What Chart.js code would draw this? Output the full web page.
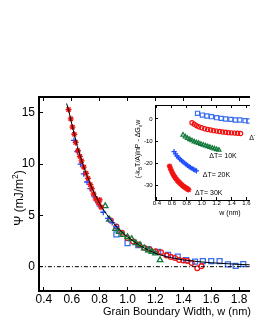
<!DOCTYPE html>
<html>
<head>
<meta charset="utf-8">
<script src="https://cdn.jsdelivr.net/npm/chart.js@4.4.0/dist/chart.umd.min.js"></script>
<style>
  html, body { margin: 0; padding: 0; background: #fff; overflow: hidden; }
  #wrap { position: relative; width: 255px; height: 330px; overflow: hidden; }
  #main { position: absolute; left: 0; top: 0; }
  #inset { position: absolute; left: 125px; top: 97px; }
</style>
</head>
<body>
<div id="wrap">
  <canvas id="main" width="255" height="330"></canvas>
  <canvas id="inset" width="130" height="125"></canvas>
</div>
<script>
const FONT = "'Liberation Sans', Arial, Helvetica, sans-serif";

// main plot: Psi (mJ/m^2) against grain boundary width w (nm)
const mainWTicks = [0.4, 0.6, 0.8, 1.0, 1.2, 1.4, 1.6, 1.8];
const mainPsiTicks = [0, 5, 10, 15];

const fitW   = [0.563, 0.58, 0.60, 0.62, 0.64, 0.66, 0.68, 0.70, 0.72, 0.75, 0.78, 0.81, 0.85, 0.89, 0.94, 1.00, 1.05, 1.10, 1.16, 1.22, 1.30, 1.40, 1.50, 1.60, 1.70, 1.80, 1.90];
const fitPsi = [15.9, 15.1, 13.9, 12.8, 11.7, 10.8, 9.95, 9.2, 8.5, 7.5, 6.7, 5.9, 5.1, 4.4, 3.6, 2.9, 2.4, 1.95, 1.55, 1.2, 0.9, 0.66, 0.5, 0.38, 0.3, 0.22, 0.17];

const zeroW = [0.3, 2.0];
const zeroPsi = [0, 0];

const starW   = [0.577, 0.593, 0.605, 0.618, 0.628, 0.644, 0.658, 0.670, 0.686, 0.702, 0.716, 0.733, 0.744, 0.756, 0.772, 0.791, 0.80, 0.81];
const starPsi = [15.3, 14.4, 13.6, 12.9, 12.1, 11.3, 10.75, 10.3, 9.7, 9.1, 8.6, 8.0, 7.6, 7.1, 6.6, 6.2, 6.5, 5.8];

const crossW   = [0.616, 0.64, 0.663, 0.686, 0.709, 0.733, 0.763, 0.786, 0.80, 0.826, 0.86, 0.89, 0.918];
const crossPsi = [12.3, 11.2, 10.0, 9.05, 8.25, 7.6, 6.8, 6.3, 5.9, 5.3, 4.7, 4.3, 3.9];

const triW   = [0.84, 0.87, 0.914, 0.94, 0.965, 1.0, 1.03, 1.06, 1.09, 1.12, 1.15, 1.175, 1.2, 1.233];
const triPsi = [5.9, 4.6, 3.7, 3.4, 3.1, 2.9, 2.7, 2.3, 2.1, 1.8, 1.6, 1.45, 1.3, 0.65];

const circW   = [0.88, 0.92, 0.96, 1.0, 1.04, 1.08, 1.12, 1.16, 1.20, 1.24, 1.28, 1.31, 1.34, 1.37, 1.40, 1.43, 1.46, 1.50, 1.53];
const circPsi = [4.5, 3.9, 3.3, 2.8, 2.45, 2.15, 1.85, 1.65, 1.5, 1.4, 1.1, 0.95, 0.85, 0.65, 0.6, 0.55, 0.35, -0.15, 0.05];

const sqW   = [0.92, 1.0, 1.077, 1.15, 1.22, 1.29, 1.36, 1.42, 1.484, 1.54, 1.60, 1.66, 1.72, 1.775, 1.83];
const sqPsi = [3.15, 2.3, 2.1, 1.7, 1.45, 1.15, 0.98, 0.65, 0.49, 0.55, 0.55, 0.55, 0.23, 0.07, 0.26];

// inset: (-kBT/A)lnP - dGv w against w (nm)
const insetWTicks = [0.4, 0.6, 0.8, 1.0, 1.2, 1.4, 1.6];
const insetValTicks = [0, -10, -20, -30];

const inSqW = [0.944, 1.008, 1.07, 1.13, 1.2, 1.26, 1.32, 1.39, 1.45, 1.51, 1.58, 1.63];
const inSqV = [2.6, 1.8, 1.36, 1.05, 0.6, 0.3, 0.0, -0.15, -0.45, -0.45, -0.77, -0.9];

const inCircW = [0.87, 0.90, 0.93, 0.96, 1.0, 1.04, 1.08, 1.12, 1.16, 1.2, 1.24, 1.28, 1.32, 1.36, 1.4, 1.44, 1.48, 1.52];
const inCircV = [-1.7, -2.4, -3.0, -3.5, -4.0, -4.4, -4.8, -5.0, -5.3, -5.5, -5.7, -5.9, -6.0, -6.2, -6.3, -6.4, -6.5, -6.6];

const inTriW = [0.75, 0.78, 0.81, 0.84, 0.87, 0.90, 0.93, 0.96, 0.99, 1.02, 1.05, 1.08, 1.11, 1.14, 1.17, 1.20, 1.23];
const inTriV = [-7.2, -8.0, -8.7, -9.3, -9.8, -10.3, -10.7, -11.0, -11.4, -11.8, -12.1, -12.5, -12.8, -13.2, -13.5, -13.8, -14.1];

const inCrossW = [0.63, 0.65, 0.67, 0.69, 0.71, 0.73, 0.75, 0.77, 0.79, 0.81, 0.83, 0.85, 0.87, 0.89, 0.91, 0.93];
const inCrossV = [-14.8, -15.8, -16.8, -17.6, -18.3, -18.9, -19.5, -20.0, -20.6, -21.1, -21.6, -22.0, -22.5, -22.9, -23.2, -23.6];

const inStarW = [0.57, 0.585, 0.60, 0.615, 0.63, 0.645, 0.66, 0.675, 0.69, 0.705, 0.72, 0.735, 0.75, 0.765, 0.78, 0.795, 0.81, 0.825];
const inStarV = [-21.5, -22.8, -24.0, -25.0, -25.9, -26.6, -27.3, -27.9, -28.5, -29.0, -29.5, -30.0, -30.4, -30.8, -31.1, -31.5, -31.8, -32.1];

const RED = '#f01212';
const BLUE_SQ = '#3a6ff0';
const BLUE_X = '#1f4fff';
const GREEN = '#127a3a';

const pts = (xs, ys) => xs.map((x, i) => ({ x: x, y: ys[i] }));

function markers(xs, ys, style, color, radius, width) {
  return {
    data: pts(xs, ys),
    showLine: false,
    pointStyle: style,
    pointRadius: radius,
    pointBorderColor: color,
    pointBackgroundColor: 'rgba(0,0,0,0)',
    pointBorderWidth: width || 1.3
  };
}

// text with sub/superscripts, centred on (x, y) baseline
function richText(ctx, parts, x, y, size, angle) {
  ctx.save();
  ctx.translate(x, y);
  ctx.rotate(angle || 0);
  ctx.fillStyle = '#000';
  ctx.textBaseline = 'alphabetic';
  ctx.textAlign = 'left';
  const fontFor = p => ((p.sub || p.sup) ? size * 0.7 : size) + 'px ' + FONT;
  let total = 0;
  parts.forEach(p => { ctx.font = fontFor(p); total += ctx.measureText(p.t).width; });
  let cx = -total / 2;
  parts.forEach(p => {
    ctx.font = fontFor(p);
    const dy = p.sub ? size * 0.25 : (p.sup ? -size * 0.4 : 0);
    ctx.fillText(p.t, cx, dy);
    cx += ctx.measureText(p.t).width;
  });
  ctx.restore();
}

function fixBox(w, h) {
  return s => {
    if (w !== null) s.width = w;
    if (h !== null) s.height = h;
    s.paddingLeft = 0; s.paddingRight = 0; s.paddingTop = 0; s.paddingBottom = 0;
  };
}

const mainText = {
  id: 'mainText',
  afterDraw(chart) {
    const ctx = chart.ctx;
    richText(ctx, [{ t: 'Ψ (mJ/m' }, { t: '2', sup: true }, { t: ')' }], 23, 198, 12, -Math.PI / 2);
    richText(ctx, [{ t: 'Grain Boundary Width, w (nm)' }], 177, 314.5, 11, 0);
  }
};

new Chart(document.getElementById('main'), {
  type: 'scatter',
  data: {
    datasets: [
      { data: pts(fitW, fitPsi), showLine: true, pointRadius: 0, borderColor: '#000', borderWidth: 1, tension: 0 },
      { data: pts(zeroW, zeroPsi), showLine: true, pointRadius: 0, borderColor: '#000', borderWidth: 1, borderDash: [4, 2, 1, 2] },
      markers(starW, starPsi, 'star', RED, 3),
      markers(crossW, crossPsi, 'cross', BLUE_X, 3),
      markers(triW, triPsi, 'triangle', GREEN, 3.2),
      markers(circW, circPsi, 'circle', RED, 2.4),
      markers(sqW, sqPsi, 'rect', BLUE_SQ, 3.5)
    ]
  },
  options: {
    responsive: false,
    animation: false,
    devicePixelRatio: 1,
    layout: { padding: { top: 97, left: 0, right: 0, bottom: 0 } },
    plugins: { legend: { display: false }, tooltip: { enabled: false } },
    scales: {
      x: {
        type: 'linear', position: 'bottom', min: 0.365, max: 1.876,
        afterBuildTicks: s => { s.ticks = mainWTicks.map(v => ({ value: v })); },
        afterFit: fixBox(null, 39),
        grid: { drawOnChartArea: false, tickLength: -4, color: '#000', lineWidth: 1 },
        border: { color: '#000', width: 2 },
        ticks: { autoSkip: false, padding: 5, color: '#000', font: { family: FONT, size: 12 }, callback: v => v.toFixed(1) }
      },
      xTop: {
        type: 'linear', axis: 'x', position: 'top', min: 0.365, max: 1.876,
        afterBuildTicks: s => { s.ticks = mainWTicks.map(v => ({ value: v })); },
        afterFit: fixBox(null, 0),
        grid: { drawOnChartArea: false, tickLength: -4, color: '#000', lineWidth: 1 },
        border: { color: '#000', width: 2 },
        ticks: { display: false }
      },
      y: {
        type: 'linear', position: 'left', min: -2.37, max: 16.53,
        afterBuildTicks: s => { s.ticks = mainPsiTicks.map(v => ({ value: v })); },
        afterFit: fixBox(39, null),
        grid: { drawOnChartArea: false, tickLength: -4, color: '#000', lineWidth: 1 },
        border: { color: '#000', width: 2 },
        ticks: { autoSkip: false, padding: 8, color: '#000', font: { family: FONT, size: 12 } }
      }
    }
  },
  plugins: [mainText]
});

const insetText = {
  id: 'insetText',
  beforeDraw(chart) {
    const a = chart.chartArea;
    chart.ctx.save();
    chart.ctx.fillStyle = '#fff';
    chart.ctx.fillRect(a.left, a.top, a.right - a.left, a.bottom - a.top);
    chart.ctx.restore();
  },
  afterDraw(chart) {
    const ctx = chart.ctx;
    richText(ctx, [{ t: '(-k' }, { t: 'B', sub: true }, { t: 'T/A)lnP - ΔG' }, { t: 'v', sub: true }, { t: 'w' }], 14.8, 52, 7, -Math.PI / 2);
    richText(ctx, [{ t: 'w (nm)' }], 105, 117.5, 7, 0);
    ctx.save();
    ctx.fillStyle = '#000';
    ctx.font = '7px ' + FONT;
    ctx.textAlign = 'left';
    ctx.textBaseline = 'middle';
    ctx.fillText('ΔT= 10K', 84.3, 59);
    ctx.fillText('ΔT= 20K', 77.7, 78);
    ctx.fillText('ΔT= 30K', 70, 96.3);
    ctx.fillText('ΔT= 5K', 124.3, 40.7);
    ctx.restore();
  }
};

new Chart(document.getElementById('inset'), {
  type: 'scatter',
  data: {
    datasets: [
      markers(inStarW, inStarV, 'star', RED, 2.8, 1.4),
      markers(inCrossW, inCrossV, 'cross', BLUE_X, 2.6, 1.3),
      markers(inTriW, inTriV, 'triangle', GREEN, 2.4, 1.2),
      markers(inCircW, inCircV, 'circle', RED, 2.1, 1.2),
      markers(inSqW, inSqV, 'rect', BLUE_SQ, 2.9, 1.2)
    ]
  },
  options: {
    responsive: false,
    animation: false,
    devicePixelRatio: 1,
    layout: { padding: { top: 8, left: 0, right: 0, bottom: 0 } },
    plugins: { legend: { display: false }, tooltip: { enabled: false } },
    scales: {
      x: {
        type: 'linear', position: 'bottom', min: 0.375, max: 1.641,
        afterBuildTicks: s => { s.ticks = insetWTicks.map(v => ({ value: v })); },
        afterFit: fixBox(null, 22),
        grid: { drawOnChartArea: false, tickLength: -3, color: '#000', lineWidth: 1 },
        border: { color: '#000', width: 1 },
        ticks: { autoSkip: false, padding: 2.7, color: '#000', font: { family: FONT, size: 6 }, callback: v => v.toFixed(1) }
      },
      xTop: {
        type: 'linear', axis: 'x', position: 'top', min: 0.375, max: 1.641,
        afterBuildTicks: s => { s.ticks = insetWTicks.map(v => ({ value: v })); },
        afterFit: fixBox(null, 0),
        grid: { drawOnChartArea: false, tickLength: -3, color: '#000', lineWidth: 1 },
        border: { color: '#000', width: 1 },
        ticks: { display: false }
      },
      y: {
        type: 'linear', position: 'left', min: -36.8, max: 6.36,
        afterBuildTicks: s => { s.ticks = insetValTicks.map(v => ({ value: v })); },
        afterFit: fixBox(30, null),
        grid: { drawOnChartArea: false, tickLength: -3, color: '#000', lineWidth: 1 },
        border: { color: '#000', width: 1 },
        ticks: { autoSkip: false, padding: 5.3, color: '#000', font: { family: FONT, size: 6 } }
      }
    }
  },
  plugins: [insetText]
});
</script>
</body>
</html>
